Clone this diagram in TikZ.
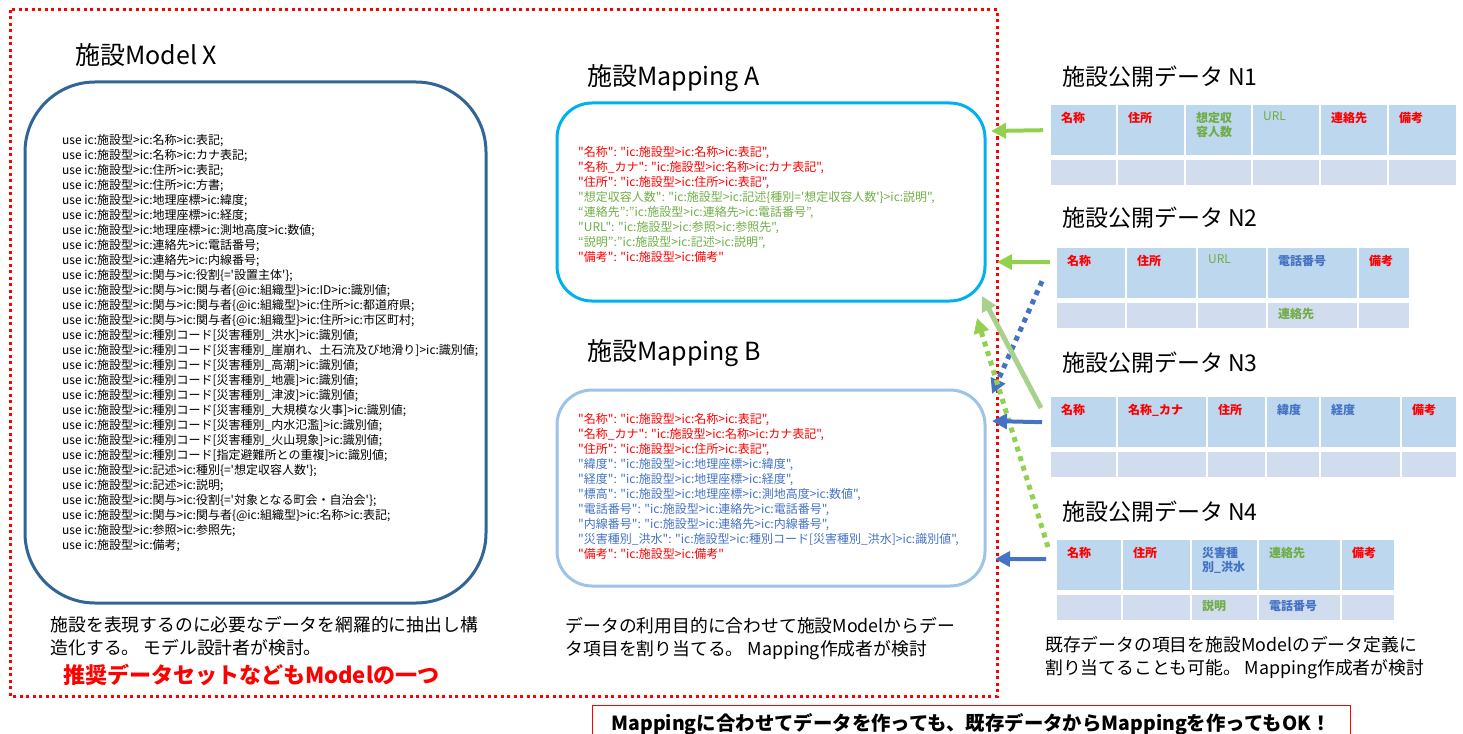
\documentclass[tikz,border=0pt]{standalone}
\usepackage{fontspec}
\setmainfont{Noto Sans CJK JP}[Ligatures=TeXOff]
\usepackage{xcolor}
\usetikzlibrary{arrows.meta, positioning}

\definecolor{tred}{RGB}{255,0,0}
\definecolor{tgreen}{RGB}{112,173,71}
\definecolor{tblue}{RGB}{68,114,196}
\definecolor{modelblue}{RGB}{49,101,152}
\definecolor{mapcyan}{RGB}{0,176,240}
\definecolor{mapblue}{RGB}{157,195,230}
\definecolor{headfill}{RGB}{189,215,238}
\definecolor{rowfill}{RGB}{209,221,238}
\definecolor{lime}{RGB}{146,208,80}
\definecolor{palegreen}{RGB}{169,209,142}

\newcommand{\cR}[1]{\textcolor{tred}{#1}}
\newcommand{\cG}[1]{\textcolor{tgreen}{#1}}
\newcommand{\cB}[1]{\textcolor{tblue}{#1}}
% one column of an open data table: table, column, left x, right x, header text, lower text
\newcommand{\datacol}[6]{%
  \pgfmathsetmacro{\cw}{#4-#3-2}
  \node[hcell, minimum width=\cw pt] (#1h#2) at (#3,\tabtop) {};
  \node[lcell, minimum width=\cw pt] (#1l#2) [below=4pt of #1h#2.south west, anchor=north west] {};
  \node[ctxt] (#1ht#2) at ([xshift=10pt,yshift=-7pt]#1h#2.north west) {#5};
  \node[ctxt] (#1lt#2) at ([xshift=10pt,yshift=-6pt]#1l#2.north west) {#6};
}

\begin{document}
\begin{tikzpicture}[
    x=1pt, y=-1pt,
    node distance=20pt,
    title/.style={font=\fontsize{25}{28}\selectfont, inner sep=0pt, anchor=west},
    code/.style={font=\fontsize{12}{15}\selectfont, align=left, inner sep=0pt, anchor=west},
    caption/.style={font=\fontsize{17.8}{23}\selectfont, align=left, inner sep=0pt, anchor=north west},
    modelbox/.style={draw=modelblue, line width=3pt, rounded corners=70pt, minimum width=461pt, minimum height=521pt},
    mapbox/.style={line width=3pt, rounded corners=35pt, minimum width=428pt},
    hcell/.style={fill=headfill, minimum height=50pt, inner sep=0pt, anchor=north west},
    lcell/.style={fill=rowfill, minimum height=25pt, inner sep=0pt},
    ctxt/.style={anchor=north west, inner sep=0pt, align=left,
        font=\fontsize{12}{14}\selectfont\bfseries},
    frame/.style={draw=tred, line width=3pt, dash pattern=on 3pt off 3.5pt},
    arrow/.style={line width=4pt, -{Triangle[length=15pt,width=15pt]}},
    dotarrow/.style={arrow, line width=5pt, dash pattern=on 5pt off 5pt}
]
\useasboundingbox (0,0) rectangle (1463,733);

% Model
\draw[frame] (10,10) rectangle (997,696);
\node[title] (modeltitle) at (75,55) {施設Model X};
\node[modelbox] (model) at (255.5,342.5) {};
\node[code] (modelcode) at (62,343) {%
use ic:施設型>ic:名称>ic:表記;\\
use ic:施設型>ic:名称>ic:カナ表記;\\
use ic:施設型>ic:住所>ic:表記;\\
use ic:施設型>ic:住所>ic:方書;\\
use ic:施設型>ic:地理座標>ic:緯度;\\
use ic:施設型>ic:地理座標>ic:経度;\\
use ic:施設型>ic:地理座標>ic:測地高度>ic:数値;\\
use ic:施設型>ic:連絡先>ic:電話番号;\\
use ic:施設型>ic:連絡先>ic:内線番号;\\
use ic:施設型>ic:関与>ic:役割\{='設置主体'\};\\
use ic:施設型>ic:関与>ic:関与者\{@ic:組織型\}>ic:ID>ic:識別値;\\
use ic:施設型>ic:関与>ic:関与者\{@ic:組織型\}>ic:住所>ic:都道府県;\\
use ic:施設型>ic:関与>ic:関与者\{@ic:組織型\}>ic:住所>ic:市区町村;\\
use ic:施設型>ic:種別コード[災害種別\_洪水]>ic:識別値;\\
use ic:施設型>ic:種別コード[災害種別\_崖崩れ、土石流及び地滑り]>ic:識別値;\\
use ic:施設型>ic:種別コード[災害種別\_高潮]>ic:識別値;\\
use ic:施設型>ic:種別コード[災害種別\_地震]>ic:識別値;\\
use ic:施設型>ic:種別コード[災害種別\_津波]>ic:識別値;\\
use ic:施設型>ic:種別コード[災害種別\_大規模な火事]>ic:識別値;\\
use ic:施設型>ic:種別コード[災害種別\_内水氾濫]>ic:識別値;\\
use ic:施設型>ic:種別コード[災害種別\_火山現象]>ic:識別値;\\
use ic:施設型>ic:種別コード[指定避難所との重複]>ic:識別値;\\
use ic:施設型>ic:記述>ic:種別\{='想定収容人数'\};\\
use ic:施設型>ic:記述>ic:説明;\\
use ic:施設型>ic:関与>ic:役割\{='対象となる町会・自治会'\};\\
use ic:施設型>ic:関与>ic:関与者\{@ic:組織型\}>ic:名称>ic:表記;\\
use ic:施設型>ic:参照>ic:参照先;\\
use ic:施設型>ic:備考;};
\node[caption] (capmodel) [below right=12pt and 27pt of model.south west]
    {施設を表現するのに必要なデータを網羅的に抽出し構\\造化する。 モデル設計者が検討。};
\node[caption, font=\fontsize{22}{26}\selectfont\bfseries, text=tred] (recommend) at (63,664)
    {推奨データセットなどもModelの一つ};

% Mappings
\node[title] (maptitleA) at (587,78) {施設Mapping A};
\node[mapbox, draw=mapcyan, minimum height=198pt] (mapA) at (771,202) {};
\node[mapbox, draw=mapblue, minimum height=196pt] (mapB) [below=86pt of mapA] {};
\node[title] (maptitleB) at (587,353) {施設Mapping B};
\node[code] (mapcodeA) at (578,204) {%
\cR{"名称": "ic:施設型>ic:名称>ic:表記",}\\
\cR{"名称\_カナ": "ic:施設型>ic:名称>ic:カナ表記",}\\
\cR{"住所": "ic:施設型>ic:住所>ic:表記",}\\
\cG{"想定収容人数": "ic:施設型>ic:記述\{種別='想定収容人数'\}>ic:説明",}\\
\cG{“連絡先”:”ic:施設型>ic:連絡先>ic:電話番号”,}\\
\cG{"URL": "ic:施設型>ic:参照>ic:参照先",}\\
\cG{“説明”:”ic:施設型>ic:記述>ic:説明”,}\\
\cR{"備考": "ic:施設型>ic:備考"}};
\node[code] (mapcodeB) at (578,486) {%
\cR{"名称": "ic:施設型>ic:名称>ic:表記",}\\
\cR{"名称\_カナ": "ic:施設型>ic:名称>ic:カナ表記",}\\
\cR{"住所": "ic:施設型>ic:住所>ic:表記",}\\
\cB{"緯度": "ic:施設型>ic:地理座標>ic:緯度",}\\
\cB{"経度": "ic:施設型>ic:地理座標>ic:経度",}\\
\cB{"標高": "ic:施設型>ic:地理座標>ic:測地高度>ic:数値",}\\
\cB{"電話番号": "ic:施設型>ic:連絡先>ic:電話番号",}\\
\cB{"内線番号": "ic:施設型>ic:連絡先>ic:内線番号",}\\
\cB{"災害種別\_洪水": "ic:施設型>ic:種別コード[災害種別\_洪水]>ic:識別値",}\\
\cR{"備考": "ic:施設型>ic:備考"}};
\node[caption] (capmap) [below right=30pt and 10pt of mapB.south west]
    {データの利用目的に合わせて施設Modelからデー\\タ項目を割り当てる。 Mapping作成者が検討};

% Open data tables
\node[title, font=\fontsize{23}{28}\selectfont] (datatitle1) at (1062,77) {施設公開データ N1};
\def\tabtop{105}
\datacol{n1}{1}{1051}{1118}{\cR{名称}}{}
\datacol{n1}{2}{1118}{1186}{\cR{住所}}{}
\datacol{n1}{3}{1186}{1253}{\cG{想定収}\\\cG{容人数}}{}
\datacol{n1}{4}{1253}{1321}{\cG{\mdseries URL}}{}
\datacol{n1}{5}{1321}{1389}{\cR{連絡先}}{}
\datacol{n1}{6}{1389}{1458}{\cR{備考}}{}

\node[title, font=\fontsize{23}{28}\selectfont] (datatitle2) at (1062,218) {施設公開データ N2};
\def\tabtop{248}
\datacol{n2}{1}{1057}{1127}{\cR{名称}}{}
\datacol{n2}{2}{1127}{1198}{\cR{住所}}{}
\datacol{n2}{3}{1198}{1268}{\cG{\mdseries URL}}{}
\datacol{n2}{4}{1268}{1359}{\cB{電話番号}}{\cG{連絡先}}
\datacol{n2}{5}{1359}{1411}{\cR{備考}}{}

\node[title, font=\fontsize{23}{28}\selectfont] (datatitle3) at (1062,363) {施設公開データ N3};
\def\tabtop{397}
\datacol{n3}{1}{1051}{1118}{\cR{名称}}{}
\datacol{n3}{2}{1118}{1208}{\cR{名称\_カナ}}{}
\datacol{n3}{3}{1208}{1267}{\cR{住所}}{}
\datacol{n3}{4}{1267}{1321}{\cB{緯度}}{}
\datacol{n3}{5}{1321}{1402}{\cB{経度}}{}
\datacol{n3}{6}{1402}{1458}{\cR{備考}}{}

\node[title, font=\fontsize{23}{28}\selectfont] (datatitle4) at (1062,512) {施設公開データ N4};
\def\tabtop{540}
\datacol{n4}{1}{1057}{1123}{\cR{名称}}{}
\datacol{n4}{2}{1123}{1192}{\cR{住所}}{}
\datacol{n4}{3}{1192}{1259}{\cB{災害種}\\\cB{別\_洪水}}{\cG{説明}}
\datacol{n4}{4}{1259}{1342}{\cG{連絡先}}{\cB{電話番号}}
\datacol{n4}{5}{1342}{1396}{\cR{備考}}{}

\node[caption] (capdata) at (1045,636)
    {既存データの項目を施設Modelのデータ定義に\\割り当てることも可能。 Mapping作成者が検討};

% Bottom note
\node[draw=tred, line width=1pt, minimum width=758pt, minimum height=38pt, anchor=north,
    font=\fontsize{19.4}{22}\selectfont\bfseries] (oknote) at (971,705)
    {Mappingに合わせてデータを作っても、既存データからMappingを作ってもOK！};

% Arrows
\coordinate (inA1) at (991,131);
\coordinate (inA2) at (997,262);
\coordinate (inA3) at (982,296);
\coordinate (inA4) at (977,318);
\coordinate (inB1) at (992,394);
\coordinate (inB2) at (992,421);
\coordinate (inB3) at (995,559);
\draw[arrow, lime] ([xshift=-8pt]n1h1.west) -- (inA1);
\draw[arrow, lime] ([xshift=-7pt,yshift=11pt]n2h1.west) -- (inA2);
\draw[dotarrow, tblue] ([xshift=-15pt,yshift=-8pt]n2h1.west) -- (inB1);
\draw[arrow, line width=5pt, palegreen] ([xshift=-10pt,yshift=-11pt]n3h1.north west) -- (inA3);
\draw[dotarrow, lime] ([xshift=-9pt,yshift=-7pt]n4h1.north west) -- (inA4);
\draw[arrow, tblue] ([xshift=-9pt]n3h1.west) -- (inB2);
\draw[arrow, tblue] ([xshift=-11pt,yshift=6pt]n4h1.west) -- (inB3);

\end{tikzpicture}
\end{document}
